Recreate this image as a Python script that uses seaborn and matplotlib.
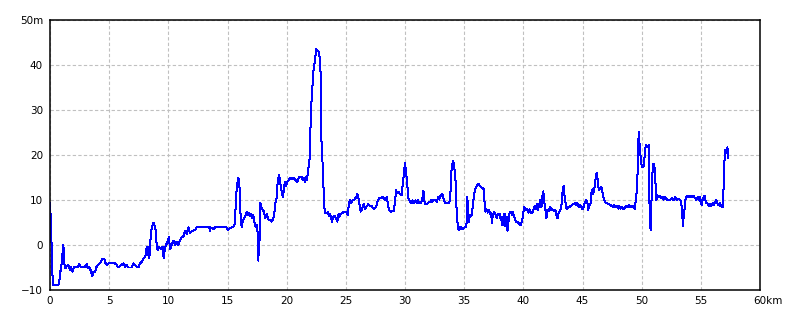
import matplotlib
matplotlib.use("Agg")
import matplotlib.pyplot as plt
from matplotlib.transforms import ScaledTranslation
import numpy as np
import pandas as pd
import seaborn as sns

# ---- data: distance (km) and elevation (m) ----
distance_km = [
    0, 0.06, 0.14, 0.2, 0.28, 0.7, 0.79, 0.85, 0.93, 0.99, 1.04, 1.07, 1.13, 1.18, 1.21, 1.27,
    1.41, 1.55, 1.69, 1.77, 1.92, 2.03, 2.39, 2.48, 2.59, 2.96, 3.1, 3.18, 3.32, 3.44, 3.58,
    3.66, 3.8, 3.94, 4.14, 4.31, 4.45, 4.59, 4.7, 4.85, 4.93, 5.49, 5.63, 5.77, 6.06, 6.2,
    6.34, 6.48, 6.62, 6.9, 7.04, 7.18, 7.32, 7.46, 7.61, 7.75, 7.89, 8.03, 8.11, 8.17, 8.25,
    8.34, 8.39, 8.51, 8.59, 8.73, 8.87, 8.96, 9.01, 9.1, 9.24, 9.38, 9.52, 9.61, 9.69, 9.8,
    9.94, 10.06, 10.14, 10.28, 10.42, 10.56, 10.7, 10.85, 10.99, 11.13, 11.27, 11.41, 11.55,
    11.69, 11.83, 11.97, 12.25, 12.39, 12.54, 12.68, 13.46, 13.52, 13.58, 13.8, 13.94, 14.93,
    15.01, 15.21, 15.49, 15.63, 15.72, 15.83, 15.92, 16.0, 16.06, 16.11, 16.2, 16.28, 16.39,
    16.54, 16.62, 16.7, 16.79, 16.9, 16.99, 17.07, 17.18, 17.32, 17.41, 17.52, 17.61, 17.66,
    17.72, 17.77, 17.86, 17.97, 18.08, 18.2, 18.31, 18.45, 18.59, 18.73, 18.87, 18.96, 19.04,
    19.15, 19.24, 19.35, 19.44, 19.52, 19.61, 19.69, 19.77, 19.86, 19.94, 20.06, 20.17, 20.34,
    20.4, 20.6, 20.75, 20.9, 21.05, 21.25, 21.35, 21.45, 21.55, 21.65, 21.72, 21.8, 21.95,
    22.03, 22.14, 22.2, 22.28, 22.36, 22.44, 22.5, 22.6, 22.69, 22.78, 22.86, 22.94, 23.06,
    23.14, 23.22, 23.33, 23.47, 23.56, 23.64, 23.72, 23.83, 23.92, 24.06, 24.17, 24.28, 24.39,
    24.47, 24.61, 24.75, 24.89, 25.0, 25.17, 25.25, 25.36, 25.44, 25.58, 25.72, 25.86, 25.97,
    26.06, 26.14, 26.25, 26.39, 26.5, 26.61, 26.75, 26.89, 27.03, 27.17, 27.31, 27.44, 27.58,
    27.72, 27.81, 27.94, 28.08, 28.22, 28.33, 28.47, 28.56, 28.64, 28.83, 29.06, 29.14, 29.25,
    29.33, 29.44, 29.58, 29.72, 29.83, 29.92, 30.0, 30.08, 30.17, 30.28, 30.36, 30.46,
    30.55, 30.63, 30.77, 30.92, 31.0, 31.11, 31.2, 31.34, 31.45, 31.56, 31.62, 31.7, 31.85,
    31.96, 32.13, 32.24, 32.32, 32.46, 32.61, 32.69, 32.8, 32.89, 33.03, 33.17, 33.25, 33.37,
    33.54, 33.73, 33.82, 33.9, 33.99, 34.07, 34.15, 34.24, 34.3, 34.35, 34.41, 34.46, 34.55,
    34.63, 34.72, 34.8, 34.89, 35.0, 35.11, 35.2, 35.25, 35.31, 35.39, 35.48, 35.59, 35.65,
    35.73, 35.82, 35.9, 35.99, 36.13, 36.21, 36.32, 36.46, 36.58, 36.66, 36.72, 36.8, 36.89,
    37.0, 37.08, 37.2, 37.28, 37.34, 37.42, 37.54, 37.65, 37.76, 37.87, 37.99, 38.1, 38.18,
    38.24, 38.32, 38.41, 38.49, 38.58, 38.66, 38.75, 38.83, 38.94, 39.03, 39.11, 39.2, 39.28,
    39.37, 39.51, 39.65, 39.76, 39.85, 39.93, 40.01, 40.07, 40.18, 40.3, 40.41,
    40.54, 40.62, 40.73, 40.85, 40.96, 41.07, 41.16, 41.24, 41.33, 41.44, 41.53, 41.61, 41.69,
    41.78, 41.86, 41.95, 42.03, 42.15, 42.26, 42.37, 42.49, 42.6, 42.71, 42.8, 42.88, 42.97,
    43.08, 43.16, 43.25, 43.33, 43.42, 43.5, 43.59, 43.67, 43.79, 43.9, 44.01, 44.12, 44.24,
    44.35, 44.44, 44.55, 44.63, 44.72, 44.8, 44.92, 45.0, 45.08, 45.2, 45.31, 45.42, 45.48,
    45.56, 45.68, 45.76, 45.85, 45.9, 45.99, 46.07, 46.19, 46.27, 46.33, 46.41, 46.55, 46.64,
    46.72, 46.84, 46.95, 47.06, 47.18, 47.32, 47.46, 47.6, 47.68, 47.8, 47.91, 48.02, 48.11,
    48.22, 48.36, 48.47, 48.59, 48.7, 48.81, 48.93, 49.01, 49.12, 49.21, 49.32, 49.41, 49.49,
    49.58, 49.63, 49.69, 49.75, 49.8, 49.86, 49.92, 50.0, 50.08, 50.17, 50.25, 50.34, 50.42,
    50.51, 50.59, 50.64, 50.7, 50.77, 50.8, 50.86, 50.93, 51.0, 51.08, 51.17, 51.25, 51.31,
    51.42, 51.56, 51.65, 51.76, 51.87, 51.99, 52.13, 52.27, 52.41, 52.55, 52.69, 52.83, 52.97,
    53.11, 53.25, 53.34, 53.39, 53.45, 53.5, 53.56, 53.62, 53.68, 53.76, 53.87, 53.99, 54.1,
    54.24, 54.38, 54.52, 54.61, 54.72, 54.8, 54.89, 54.97, 55.06, 55.14, 55.23, 55.31, 55.37,
    55.45, 55.56, 55.65, 55.76, 55.87, 55.99, 56.1, 56.21, 56.3, 56.38, 56.49, 56.58, 56.66,
    56.75, 56.83, 56.89, 56.97, 57.03, 57.08, 57.14, 57.2, 57.25, 57.28,
]

elevation_m = [
    9.3, 5.9, -0.4, -6.3, -8.9, -8.9, -8.1, -6.3, -5.2, -4.1, -1.9, -3.7, 0, -2.2, -4.1, -5.2,
    -4.8, -4.4, -5.6, -4.8, -5.9, -4.8, -4.8, -4.2, -4.8, -4.8, -4.2, -5.2, -4.8, -5.7, -7.0,
    -5.9, -6.1, -4.8, -4.2, -3.7, -3.0, -3.0, -4.1, -4.4, -4.1, -4.1, -4.4, -5.0, -4.4, -4.1,
    -4.8, -4.4, -5.0, -5.0, -4.1, -4.4, -4.8, -5.0, -4.1, -3.7, -3.0, -2.6, -1.9, -0.4, -2.2,
    -0.4, -3.0, 1.9, 3.7, 5.0, 4.1, 3.0, 0, -1.1, -0.5, -1.0, -0.4, -3.0, -1.1, 0,
    0.7, 1.7, -1.0, 0, 1.0, 0, 0.7, 0, 1.1, 1.7, 1.9, 3.1, 2.4,
    3.9, 2.6, 3.1, 3.3, 3.9, 3.9, 4.1, 3.9, 3.1, 3.9, 3.5, 3.9, 3.9,
    3.3, 3.7, 4.1, 4.8, 10.7, 13.7, 15.0, 13.7, 9.3, 6.3, 3.9, 5.2, 5.9,
    6.7, 7.4, 6.7, 7.2, 6.4, 7.0, 5.9, 6.7, 4.4, 4.1, 4.4, -3.5, 2.2,
    1.1, 9.3, 8.5, 7.8, 7.4, 5.9, 7.0, 5.7, 5.6, 5.2, 5.9, 7.0, 9.3,
    10.4, 14.1, 15.6, 14.4, 12.6, 11.5, 10.7, 12.6, 14.1, 13.0, 14.1, 14.4, 15.0,
    14.6, 14.9, 14.4, 13.9, 15.2, 15.2, 14.4, 15.0, 13.9, 15.2, 14.4, 16.3, 19.3,
    27.8, 34.4, 35.9, 39.3, 40.4, 42.2, 43.5, 43.2, 43.0, 41.9, 38.5, 23.3, 16.7,
    10.7, 7.2, 7.0, 7.3, 6.5, 7.0, 6.3, 5.2, 6.3, 6.4, 5.9, 5.2, 7.0,
    6.3, 7.0, 7.2, 7.4, 7.4, 6.7, 9.1, 10.0, 9.3, 9.9, 10.0, 10.6, 11.3,
    10.4, 9.3, 7.4, 8.1, 9.1, 8.0, 8.5, 9.1, 8.7, 8.7, 8.1, 8.1, 8.7,
    10.0, 10.4, 10.4, 10.7, 10.4, 10.0, 10.7, 8.9, 7.8, 7.4, 7.6, 9.3, 12.2,
    11.6, 11.8, 11.3, 11.1, 14.1, 16.3, 18.3, 16.3, 14.1, 10.4, 9.9, 9.6,
    9.3, 9.9, 9.3, 9.9, 9.4, 10.0, 9.3, 9.3, 10.1, 12.1, 10.0, 9.1, 9.1,
    9.4, 9.6, 10.0, 9.6, 10.0, 10.1, 9.6, 10.7, 10.1, 11.1, 11.3, 10.4, 9.4,
    9.3, 9.3, 10.1, 15.9, 17.8, 18.7, 17.6, 15.6, 13.0, 8.5, 6.3, 3.9, 3.3,
    4.1, 3.6, 3.9, 3.5, 3.9, 3.9, 4.8, 10.7, 9.3, 5.2, 6.7, 6.5, 6.7,
    8.9, 10.7, 12.2, 12.8, 13.3, 13.6, 13.1, 12.8, 12.6, 12.4, 9.6, 7.4, 7.9,
    7.2, 7.8, 6.9, 7.2, 4.8, 6.7, 7.4, 6.7, 5.9, 7.0, 6.9, 5.6, 6.3,
    4.4, 5.9, 7.0, 4.1, 6.3, 3.2, 5.2, 7.0, 7.4, 6.7, 7.4, 6.5, 5.9,
    5.2, 5.2, 4.7, 4.4, 5.0, 5.9, 7.4, 8.4, 7.7, 8.1, 7.2,
    7.9, 7.0, 7.0, 7.9, 8.7, 8.1, 9.1, 7.8, 8.9, 10.0, 8.4, 10.9, 11.9,
    9.4, 7.9, 5.9, 7.8, 7.6, 8.4, 7.8, 7.9, 7.6, 7.8, 6.7, 5.9, 7.0,
    7.6, 7.9, 9.3, 12.6, 13.1, 10.4, 8.9, 7.9, 8.4, 8.4, 8.7, 8.9, 9.1,
    9.3, 8.9, 9.4, 8.7, 8.4, 8.9, 8.4, 7.9, 8.4, 9.4, 10.0, 9.3, 7.8,
    8.7, 9.3, 11.6, 12.4, 11.3, 12.2, 14.1, 16.1, 14.8, 13.0, 12.2, 13.0, 12.6,
    11.1, 10.0, 9.4, 9.4, 9.1, 8.9, 8.7, 8.5, 8.9, 8.4, 8.7, 8.1, 8.7,
    8.1, 8.4, 7.9, 8.4, 8.7, 8.4, 8.9, 8.4, 8.7, 8.4, 8.7, 7.9, 9.6,
    11.9, 14.1, 20.0, 25.2, 23.3, 20.4, 19.8, 17.4, 17.3, 17.6, 19.6, 22.2, 22.0,
    21.7, 22.2, 12.2, 4.1, 3.3, 7.0, 12.6, 17.0, 18.1, 17.4, 13.7, 10.0, 11.1,
    10.6, 10.9, 10.4, 10.7, 10.1, 10.6, 10.1, 10.0, 10.0, 10.4, 10.0, 10.6, 10.0,
    10.3, 10.0, 9.6, 7.8, 5.9, 4.1, 7.0, 7.9, 10.0, 10.6, 10.9, 10.6, 10.9,
    10.6, 10.9, 10.4, 10.0, 10.6, 10.1, 10.7, 9.6, 8.9, 10.0, 10.6, 10.9, 10.0,
    9.4, 9.3, 8.7, 9.1, 8.7, 9.3, 8.9, 9.4, 10.0, 9.3, 8.9, 9.3, 8.7,
    8.9, 8.4, 10.0, 17.0, 20.4, 21.1, 20.4, 20.7, 21.7, 19.3,
]

x_ticks = [0, 5, 10, 15, 20, 25, 30, 35, 40, 45, 50, 55, 60]
x_tick_labels = ["0", "5", "10", "15", "20", "25", "30", "35", "40", "45", "50", "55", "60km"]
y_ticks = [-10, 0, 10, 20, 30, 40, 50]
y_tick_labels = ["\u221210", "0", "10", "20", "30", "40", "50m"]

# ---- plot ----
sns.set_style("white")
plt.rcParams["font.family"] = ["DejaVu Sans"]

fig = plt.figure(figsize=(8, 3.2), dpi=100)
ax = fig.add_axes([0.0625, 0.09375, 0.8875, 0.84375])

df = pd.DataFrame({"km": distance_km, "m": elevation_m})
sns.lineplot(data=df, x="km", y="m", ax=ax, color="#0000ff", linewidth=0.72,
             estimator=None, sort=False, antialiased=False)

ax.set_xlim(0, 60)
ax.set_ylim(-10, 50)
ax.set_xticks(x_ticks)
ax.set_xticklabels(x_tick_labels, fontsize=7.5)
ax.set_yticks(y_ticks)
ax.set_yticklabels(y_tick_labels, fontsize=7.5)
ax.set_xlabel("")
ax.set_ylabel("")

ax.grid(True, color="#c0c0c0", linestyle=(0, (3, 2)), linewidth=0.8)
ax.set_axisbelow(True)
ax.tick_params(axis="both", length=0, colors="black")
ax.tick_params(axis="x", pad=4)
ax.tick_params(axis="y", pad=5)

for sp in ax.spines.values():
    sp.set_color("black")
    sp.set_linewidth(1.1)

# make "60km" sit with its digits centred on the tick
last = ax.get_xticklabels()[-1]
last.set_horizontalalignment("left")
last.set_transform(last.get_transform() + ScaledTranslation(-0.065, 0, fig.dpi_scale_trans))

fig.savefig("out.png", dpi=100, facecolor="white")
